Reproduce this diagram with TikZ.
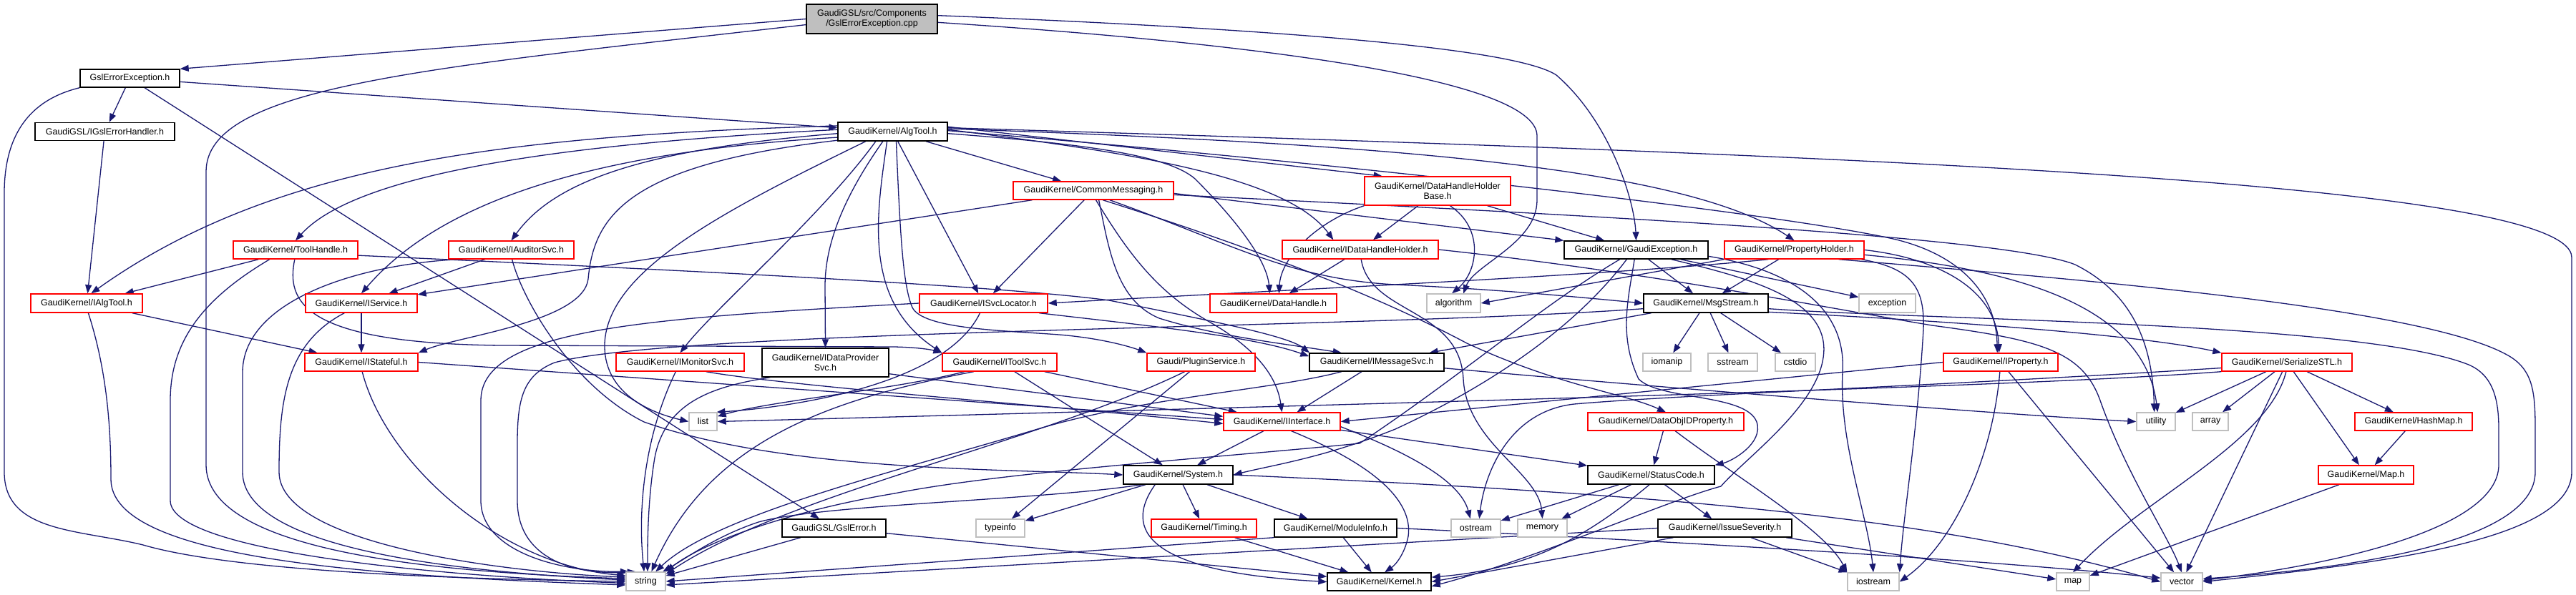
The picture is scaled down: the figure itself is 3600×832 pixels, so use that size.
\documentclass[tikz,border=0pt]{standalone}
\usepackage{fontspec}
\setmainfont{Liberation Sans}
\usetikzlibrary{arrows.meta}
\definecolor{edgecol}{HTML}{191970}
\definecolor{redb}{HTML}{FF0000}
\definecolor{grayb}{HTML}{BFBFBF}
\pgfdeclarelayer{bg}
\pgfsetlayers{bg,main}
\begin{document}
\begin{tikzpicture}[x=1pt,y=1pt,
  nd/.style={rectangle, inner sep=0pt, minimum height=25pt, line width=1.4pt, fill=white, align=center, font=\fontsize{12.5}{14.5}\selectfont},
  blk/.style={nd, draw=black},
  redn/.style={nd, draw=redb},
  sysn/.style={nd, draw=grayb},
  rootn/.style={nd, draw=black, fill=grayb},
  dep/.style={draw=edgecol, line width=1.3pt, -{Triangle[length=12pt,width=9pt]}}]
\useasboundingbox (0,0) rectangle (3600,-832);
% ---------- nodes ----------
\node[rootn, minimum width=183pt, minimum height=41pt] (root) at (1218.5,-26.5) {GaudiGSL/src/Components\\/GslErrorException.cpp};
\node[blk, minimum width=139pt] (gslexc) at (181.5,-109.5) {GslErrorException.h};
\node[blk, minimum width=195pt] (igsl) at (146.5,-184) {GaudiGSL/IGslErrorHandler.h};
\node[blk, minimum width=153pt, minimum height=26pt] (algtool) at (1247.5,-184) {GaudiKernel/AlgTool.h};
\node[redn, minimum width=224pt] (commsg) at (1528,-266.5) {GaudiKernel/CommonMessaging.h};
\node[redn, minimum width=204pt, minimum height=40pt] (dhhb) at (2009,-267) {GaudiKernel/DataHandleHolder\\Base.h};
\node[redn, minimum width=174pt] (toolh) at (413,-349.5) {GaudiKernel/ToolHandle.h};
\node[redn, minimum width=175pt] (iaud) at (714.5,-349.5) {GaudiKernel/IAuditorSvc.h};
\node[redn, minimum width=218pt, minimum height=26pt] (idhh) at (1901,-349) {GaudiKernel/IDataHandleHolder.h};
\node[blk, minimum width=201pt] (gexc) at (2286.5,-349.5) {GaudiKernel/GaudiException.h};
\node[redn, minimum width=195pt] (prophold) at (2507.5,-349.5) {GaudiKernel/PropertyHolder.h};
\node[redn, minimum width=156pt, minimum height=26pt] (ialg) at (121,-424) {GaudiKernel/IAlgTool.h};
\node[redn, minimum width=156pt, minimum height=26pt] (isvc) at (505,-424) {GaudiKernel/IService.h};
\node[redn, minimum width=179pt, minimum height=26pt] (isvcloc) at (1374.5,-424) {GaudiKernel/ISvcLocator.h};
\node[redn, minimum width=177pt, minimum height=26pt] (dh) at (1779.5,-424) {GaudiKernel/DataHandle.h};
\node[sysn, minimum width=75pt, minimum height=26pt] (algo) at (2031.5,-424) {algorithm};
\node[blk, minimum width=174pt, minimum height=26pt] (msg) at (2384,-424) {GaudiKernel/MsgStream.h};
\node[sysn, minimum width=79pt, minimum height=26pt] (excp) at (2637.5,-424) {exception};
\node[redn, minimum width=158pt] (istate) at (505,-506.5) {GaudiKernel/IStateful.h};
\node[redn, minimum width=179pt] (imon) at (950.5,-506.5) {GaudiKernel/IMonitorSvc.h};
\node[blk, minimum width=177pt, minimum height=40pt] (idps) at (1153.5,-507) {GaudiKernel/IDataProvider\\Svc.h};
\node[redn, minimum width=160pt] (itool) at (1397,-506.5) {GaudiKernel/IToolSvc.h};
\node[redn, minimum width=151pt] (plugin) at (1678.5,-506.5) {Gaudi/PluginService.h};
\node[blk, minimum width=188pt] (imsg) at (1924,-506.5) {GaudiKernel/IMessageSvc.h};
\node[sysn, minimum width=67pt] (iomanip) at (2329.5,-506.5) {iomanip};
\node[sysn, minimum width=69pt] (sstream) at (2421.5,-506.5) {sstream};
\node[sysn, minimum width=56pt] (cstdio) at (2509,-506.5) {cstdio};
\node[redn, minimum width=160pt] (iprop) at (2796,-506.5) {GaudiKernel/IProperty.h};
\node[redn, minimum width=182pt] (sstl) at (3196,-506.5) {GaudiKernel/SerializeSTL.h};
\node[sysn, minimum width=39pt] (list) at (982.5,-589.5) {list};
\node[redn, minimum width=163pt] (iint) at (1791.5,-589.5) {GaudiKernel/IInterface.h};
\node[redn, minimum width=218pt] (doid) at (2328,-589.5) {GaudiKernel/DataObjIDProperty.h};
\node[sysn, minimum width=54pt] (utility) at (3013,-589.5) {utility};
\node[sysn, minimum width=50pt] (array) at (3089,-589.5) {array};
\node[redn, minimum width=164pt] (hashmap) at (3373,-589.5) {GaudiKernel/HashMap.h};
\node[blk, minimum width=153pt, minimum height=26pt] (system) at (1646.5,-664) {GaudiKernel/System.h};
\node[blk, minimum width=177pt, minimum height=26pt] (sc) at (2307.5,-664) {GaudiKernel/StatusCode.h};
\node[redn, minimum width=133pt, minimum height=26pt] (gmap) at (3306.5,-664) {GaudiKernel/Map.h};
\node[blk, minimum width=145pt] (gslerr) at (1165.5,-738.5) {GaudiGSL/GslError.h};
\node[sysn, minimum width=68pt] (typeinfo) at (1398,-738.5) {typeinfo};
\node[redn, minimum width=147pt] (timing) at (1682.5,-738.5) {GaudiKernel/Timing.h};
\node[blk, minimum width=171pt] (modinfo) at (1866.5,-738.5) {GaudiKernel/ModuleInfo.h};
\node[sysn, minimum width=69pt] (ostream) at (2062.5,-738.5) {ostream};
\node[sysn, minimum width=69pt] (memory) at (2155.5,-738.5) {memory};
\node[blk, minimum width=187pt] (issev) at (2410.5,-738.5) {GaudiKernel/IssueSeverity.h};
\node[sysn, minimum width=55pt, minimum height=26pt] (string) at (902.5,-813) {string};
\node[blk, minimum width=145pt] (kernel) at (1927.5,-813.5) {GaudiKernel/Kernel.h};
\node[sysn, minimum width=72pt] (iostream) at (2618,-813.5) {iostream};
\node[sysn, minimum width=46pt] (map) at (2897,-813.5) {map};
\node[sysn, minimum width=58pt] (vector) at (3049,-813.5) {vector};
% ---------- edges ----------
\begin{pgfonlayer}{bg}
\fill[white] (0,0) rectangle (3600,-832);
% root
\draw[dep] (root.west) -- (gslexc.north east);
\draw[dep] (root.185) .. controls (600,-95) and (288,-120) .. (288,-240) -- (288,-650) .. controls (288,-770) and (600,-800) .. (string.172);
\draw[dep] (root.3) .. controls (1900,-45) and (2130,-75) .. (2175,-105) .. controls (2250,-170) and (2284,-280) .. (gexc.north);
\draw[dep] (root.-3) .. controls (1750,-60) and (2148,-110) .. (2148,-190) -- (2148,-280) .. controls (2148,-340) and (2060,-370) .. (algo.45);
% GslErrorException.h
\draw[dep] (gslexc) -- (igsl);
\draw[dep] (gslexc) -- (algtool);
\draw[dep] (gslexc) -- (gslerr);
\draw[dep] (gslexc.south west) .. controls (40,-140) and (6,-190) .. (6,-270) -- (6,-660) .. controls (6,-745) and (110,-740) .. (200,-762) .. controls (330,-800) and (650,-810) .. (string.west);
\draw[dep] (igsl) -- (ialg);
% AlgTool.h
\draw[dep] (algtool.174) .. controls (700,-190) and (380,-230) .. (ialg.65);
\draw[dep] (algtool.178) .. controls (800,-200) and (500,-240) .. (toolh.north);
\draw[dep] (algtool.182) .. controls (880,-210) and (770,-260) .. (iaud.north);
\draw[dep] (algtool.186) .. controls (780,-215) and (600,-300) .. (isvc.north);
\draw[dep] (algtool.189) .. controls (880,-230) and (830,-300) .. (822,-390) .. controls (815,-450) and (640,-470) .. (istate.north east);
\draw[dep] (algtool.200) .. controls (1000,-300) and (850,-380) .. (845,-480) .. controls (843,-545) and (900,-575) .. (list.west);
\draw[dep] (algtool.210) .. controls (1150,-300) and (1000,-430) .. (imon.north);
\draw[dep] (algtool.225) .. controls (1190,-260) and (1153,-330) .. (1153,-400) -- (idps.north);
\draw[dep] (algtool.240) .. controls (1225,-300) and (1205,-420) .. (itool.north west);
\draw[dep] (algtool) -- (isvcloc);
\draw[dep] (algtool.290) .. controls (1258,-330) and (1262,-400) .. (1275,-430) .. controls (1290,-460) and (1400,-462) .. (1480,-468) .. controls (1540,-473) and (1580,-485) .. (plugin.north west);
\draw[dep] (algtool) -- (commsg);
\draw[dep] (algtool.5) -- (dhhb.165);
\draw[dep] (algtool.2) .. controls (1600,-215) and (1800,-250) .. (idhh.160);
\draw[dep] (algtool.-2) .. controls (1500,-200) and (1630,-215) .. (1670,-250) .. controls (1720,-300) and (1770,-360) .. (dh.110);
\draw[dep] (algtool.3) .. controls (1900,-200) and (2350,-230) .. (prophold.north);
\draw[dep] (algtool.1) .. controls (1900,-230) and (2500,-300) .. (2650,-335) .. controls (2750,-360) and (2790,-420) .. (iprop.110);
\draw[dep] (algtool.4) .. controls (2500,-215) and (3594,-250) .. (3594,-360) -- (3594,-660) .. controls (3594,-760) and (3300,-790) .. (vector.east);
% CommonMessaging.h
\draw[dep] (commsg) -- (isvc);
\draw[dep] (commsg) -- (isvcloc);
\draw[dep] (commsg.-2) -- (gexc.north west);
\draw[dep] (commsg.-30) .. controls (1720,-340) and (1800,-390) .. (1950,-398) .. controls (2100,-405) and (2200,-415) .. (msg.west);
\draw[dep] (commsg.-60) .. controls (1550,-350) and (1560,-420) .. (1620,-445) .. controls (1700,-470) and (1790,-480) .. (imsg.165);
\draw[dep] (commsg.-75) .. controls (1580,-360) and (1620,-410) .. (1690,-450) .. controls (1760,-490) and (1785,-530) .. (iint.north);
\draw[dep] (commsg.-45) .. controls (1700,-330) and (1900,-400) .. (2050,-480) .. controls (2180,-540) and (2270,-550) .. (doid.north);
\draw[dep] (commsg.-3) .. controls (2200,-300) and (2800,-330) .. (2900,-370) .. controls (2980,-410) and (3008,-480) .. (utility.100);
% DataHandleHolderBase.h
\draw[dep] (dhhb.south west) .. controls (1840,-310) and (1790,-360) .. (dh.60);
\draw[dep] (dhhb) -- (idhh);
\draw[dep] (dhhb.-50) .. controls (2075,-320) and (2065,-380) .. (algo.100);
\draw[dep] (dhhb) -- (gexc);
% IDataHandleHolder.h
\draw[dep] (idhh) -- (dh);
\draw[dep] (idhh.-85) .. controls (1915,-440) and (2040,-430) .. (2045,-530) .. controls (2050,-620) and (2150,-660) .. (memory.north);
\draw[dep] (idhh.east) .. controls (2300,-380) and (2550,-430) .. (2700,-455) .. controls (2850,-475) and (2910,-490) .. (2935,-560) .. controls (2970,-660) and (3030,-750) .. (vector.north);
% GaudiException.h
\draw[dep] (gexc) -- (msg);
\draw[dep] (gexc) -- (excp);
\draw[dep] (gexc.-135) .. controls (2200,-460) and (2080,-540) .. (1950,-600) .. controls (1850,-640) and (1780,-650) .. (system.east);
\draw[dep] (gexc.-150) .. controls (2150,-430) and (2050,-520) .. (1900,-620) .. controls (1700,-640) and (1400,-660) .. (1250,-690) .. controls (1100,-715) and (980,-760) .. (string.north east);
\draw[dep] (gexc.-100) .. controls (2275,-420) and (2262,-470) .. (2290,-530) .. controls (2320,-560) and (2440,-550) .. (2455,-590) .. controls (2465,-620) and (2420,-645) .. (sc.north east);
\draw[dep] (gexc.-15) .. controls (2450,-390) and (2560,-420) .. (2548,-500) .. controls (2538,-570) and (2440,-640) .. (2405,-680) .. controls (2330,-700) and (2150,-780) .. (kernel.-5);
\draw[dep] (gexc.-5) .. controls (2520,-380) and (2580,-440) .. (2575,-520) .. controls (2570,-620) and (2610,-720) .. (iostream.north);
% PropertyHolder.h
\draw[dep] (prophold) -- (msg);
\draw[dep] (prophold.south west) -- (algo.east);
\draw[dep] (prophold.200) .. controls (2250,-385) and (1800,-405) .. (isvcloc.east);
\draw[dep] (prophold.east) .. controls (2700,-360) and (2790,-400) .. (iprop.100);
\draw[dep] (prophold.-4) .. controls (2800,-375) and (2995,-420) .. (utility.80);
\draw[dep] (prophold.-12) .. controls (2900,-390) and (3400,-430) .. (3510,-500) .. controls (3540,-520) and (3543,-550) .. (3543,-600) -- (3543,-660) .. controls (3543,-760) and (3280,-795) .. (vector.8);
\draw[dep] (prophold.-8) .. controls (2670,-375) and (2690,-400) .. (2688,-460) .. controls (2680,-600) and (2660,-720) .. (iostream.north east);
% MsgStream.h
\draw[dep] (msg) -- (iomanip);
\draw[dep] (msg) -- (sstream);
\draw[dep] (msg) -- (cstdio);
\draw[dep] (msg) -- (imsg);
\draw[dep] (msg.-8) .. controls (2750,-450) and (3000,-470) .. (sstl.north west);
\draw[dep] (msg.-5) .. controls (2700,-448) and (3300,-450) .. (3450,-510) .. controls (3485,-525) and (3492,-560) .. (3492,-600) -- (3492,-650) .. controls (3492,-740) and (3260,-790) .. (vector.4);
\draw[dep] (msg.185) .. controls (1900,-460) and (950,-460) .. (775,-507) .. controls (730,-525) and (723,-560) .. (723,-620) -- (723,-700) .. controls (723,-780) and (800,-805) .. (string.135);
% IProperty.h
\draw[dep] (iprop) -- (vector);
\draw[dep] (iprop.-95) .. controls (2785,-640) and (2730,-760) .. (iostream.east);
\draw[dep] (iprop.west) -- (iint.east);
% SerializeSTL.h
\draw[dep] (sstl) -- (utility);
\draw[dep] (sstl) -- (array);
\draw[dep] (sstl) -- (hashmap);
\draw[dep] (sstl) -- (gmap);
\draw[dep] (sstl) -- (vector);
\draw[dep] (sstl.-95) .. controls (3170,-620) and (2990,-700) .. (map.north);
\draw[dep] (sstl.south west) .. controls (2900,-535) and (2500,-550) .. (list.east);
\draw[dep] (sstl.185) .. controls (2700,-540) and (2350,-552) .. (2200,-565) .. controls (2110,-575) and (2075,-660) .. (ostream.70);
\draw[dep] (hashmap) -- (gmap);
\draw[dep] (gmap) -- (map);
% IInterface.h
\draw[dep] (iint) -- (system);
\draw[dep] (iint) -- (sc);
\draw[dep] (iint.-5) .. controls (1960,-630) and (2040,-670) .. (ostream.120);
\draw[dep] (iint.-45) .. controls (1920,-650) and (1975,-700) .. (1968,-750) .. controls (1963,-775) and (1950,-790) .. (kernel.60);
% System.h
\draw[dep] (system) -- (typeinfo);
\draw[dep] (system) -- (timing);
\draw[dep] (system) -- (modinfo);
\draw[dep] (system.-157) .. controls (1570,-740) and (1600,-800) .. (kernel.west);
\draw[dep] (system.-165) .. controls (1450,-700) and (1150,-705) .. (1060,-730) .. controls (1000,-750) and (960,-780) .. (string.30);
\draw[dep] (system.east) .. controls (2300,-690) and (2700,-720) .. (vector.west);
% Timing, ModuleInfo, GslError
\draw[dep] (timing) -- (kernel);
\draw[dep] (modinfo) -- (kernel);
\draw[dep] (modinfo.south west) -- (string.east);
\draw[dep] (modinfo.east) .. controls (2400,-760) and (2800,-785) .. (vector.170);
\draw[dep] (gslerr) -- (kernel);
\draw[dep] (gslerr) -- (string);
% PluginService.h
\draw[dep] (plugin) -- (typeinfo);
\draw[dep] (plugin.-150) .. controls (1450,-620) and (1100,-690) .. (string.20);
% IToolSvc.h
\draw[dep] (itool) -- (system);
\draw[dep] (itool) -- (iint);
\draw[dep] (itool.-165) .. controls (1250,-545) and (1080,-560) .. (list.20);
\draw[dep] (itool.-160) .. controls (1150,-560) and (990,-620) .. (string.60);
% ISvcLocator.h
\draw[dep] (isvcloc.west) .. controls (900,-445) and (672,-460) .. (672,-560) -- (672,-700) .. controls (672,-770) and (780,-800) .. (string.150);
\draw[dep] (isvcloc.-110) .. controls (1320,-540) and (1100,-570) .. (list.35);
\draw[dep] (isvcloc.-10) .. controls (1600,-455) and (1750,-470) .. (imsg.175);
% IDataProviderSvc.h
\draw[dep] (idps.-10) -- (iint.175);
\draw[dep] (idps.-165) .. controls (1000,-540) and (930,-560) .. (915,-640) .. controls (905,-700) and (905,-760) .. (string.80);
% IMonitorSvc.h
\draw[dep] (imon.-115) .. controls (905,-600) and (890,-700) .. (string.100);
\draw[dep] (imon.-20) .. controls (1100,-540) and (1500,-570) .. (iint.182);
% IMessageSvc.h
\draw[dep] (imsg) -- (iint);
\draw[dep] (imsg.-165) .. controls (1780,-545) and (1600,-555) .. (1450,-600) .. controls (1250,-660) and (1000,-720) .. (string.45);
\draw[dep] (imsg.-5) .. controls (2300,-540) and (2800,-580) .. (utility.west);
% DataObjIDProperty.h
\draw[dep] (doid) -- (sc);
\draw[dep] (doid.-45) .. controls (2430,-670) and (2550,-740) .. (iostream.north west);
% StatusCode.h
\draw[dep] (sc) -- (ostream);
\draw[dep] (sc) -- (memory);
\draw[dep] (sc) -- (issev);
\draw[dep] (sc.-100) .. controls (2230,-740) and (2150,-795) .. (kernel.5);
% IssueSeverity.h
\draw[dep] (issev) -- (iostream);
\draw[dep] (issev) -- (kernel.east);
\draw[dep] (issev) -- (map);
\draw[dep] (issev.west) -- (string.-10);
% IStateful.h
\draw[dep] (istate.-85) .. controls (540,-650) and (700,-790) .. (string.164);
\draw[dep] (istate.east) -- (iint.178);
% IService.h
\draw[dep] (isvc) -- (istate);
\draw[dep] (isvc.-150) .. controls (400,-480) and (390,-560) .. (390,-660) .. controls (390,-760) and (700,-800) .. (string.168);
% IAlgTool.h
\draw[dep] (ialg) -- (istate);
\draw[dep] (ialg.-80) .. controls (150,-520) and (155,-600) .. (155,-670) .. controls (155,-780) and (500,-805) .. (string.190);
% ToolHandle.h
\draw[dep] (toolh) -- (ialg);
\draw[dep] (toolh.-160) .. controls (280,-420) and (238,-480) .. (238,-560) -- (238,-700) .. controls (238,-770) and (600,-805) .. (string.185);
\draw[dep] (toolh.-95) .. controls (400,-420) and (420,-480) .. (700,-483) -- (1250,-485) .. controls (1290,-486) and (1305,-490) .. (itool.north west);
\draw[dep] (toolh.-5) .. controls (1000,-380) and (1400,-400) .. (1550,-420) .. controls (1700,-450) and (1800,-470) .. (imsg.172);
% IAuditorSvc.h
\draw[dep] (iaud) -- (isvc);
\draw[dep] (iaud.190) .. controls (500,-370) and (340,-420) .. (339,-520) -- (339,-660) .. controls (339,-770) and (650,-800) .. (string.176);
\draw[dep] (iaud.-85) .. controls (730,-420) and (800,-540) .. (900,-590) .. controls (1100,-660) and (1400,-655) .. (system.west);
\end{pgfonlayer}
\end{tikzpicture}
\end{document}
